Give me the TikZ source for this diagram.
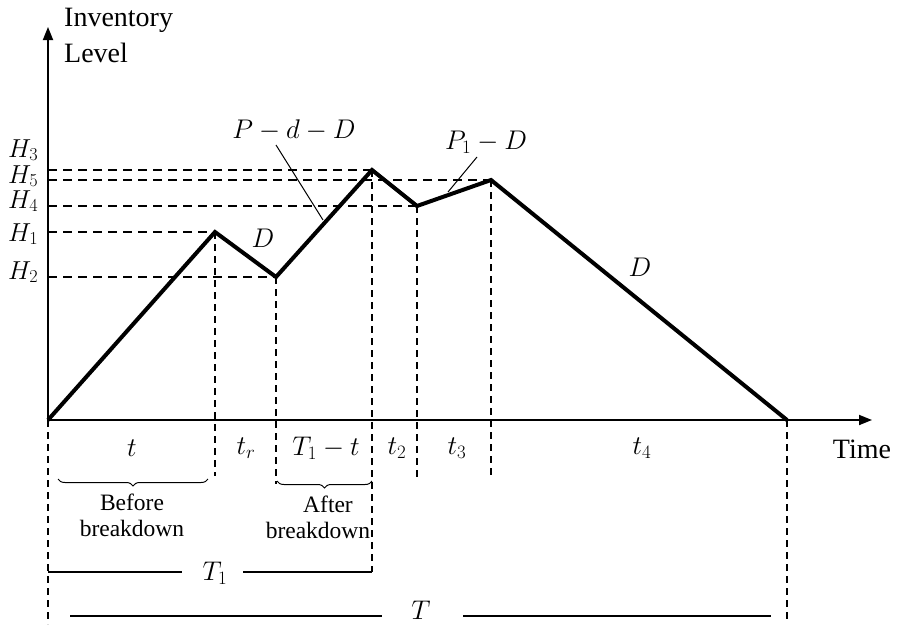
\RequirePackage{fix-cm}
\documentclass[tikz,border=0pt]{standalone}
\usepackage{fontspec}
\setmainfont{Liberation Serif}
\usetikzlibrary{arrows.meta,decorations.pathreplacing}
\begin{document}
\begin{tikzpicture}[x=1pt,y=-1pt,
 axis/.style={line width=1.8pt,-{Triangle[length=13pt,width=10pt]}},
 prof/.style={line width=4pt,line join=miter},
 guide/.style={line width=1.6pt,dash pattern=on 9pt off 6pt},
 vguide/.style={line width=1.6pt,dash pattern=on 7pt off 5pt},
 lead/.style={line width=1pt},
 span/.style={line width=1.4pt},
 brc/.style={line width=1pt,decorate,decoration={brace,mirror,amplitude=7pt}},
 lbl/.style={inner sep=0pt,font=\fontsize{27}{30}\selectfont},
 hl/.style={inner sep=0pt,anchor=base west,font=\fontsize{26}{30}\selectfont},
 txt/.style={inner sep=0pt,font=\fontsize{28}{33}\selectfont},
 small/.style={inner sep=0pt,align=center,font=\fontsize{23.5}{26}\selectfont}]
\useasboundingbox (0,0) rectangle (897,624);

% key points
\coordinate (O) at (48,420);
\coordinate (A) at (215,232);
\coordinate (B) at (276,277);
\coordinate (C) at (372,170);
\coordinate (E) at (417,206);
\coordinate (F) at (491,180);
\coordinate (G) at (787,420);
\coordinate (ytop) at (48,27);
\coordinate (xend) at (872,420);

% horizontal guides
\draw[guide] (48,232) -- (A);
\draw[guide] (48,277) -- (B);
\draw[guide] (48,170) -- (C);
\draw[guide] (48,180) -- (F);
\draw[guide] (48,206) -- (E);

% vertical guides
\coordinate (Ab) at (215,476);
\coordinate (Bb) at (276,484);
\coordinate (Cb) at (372,572);
\coordinate (Eb) at (417,477);
\coordinate (Fb) at (491,476);
\coordinate (Gb) at (787,622);
\coordinate (Ob) at (48,624);
\draw[vguide] (A) -- (Ab);
\draw[vguide] (B) -- (Bb);
\draw[vguide] (C) -- (Cb);
\draw[vguide] (E) -- (Eb);
\draw[vguide] (F) -- (Fb);
\draw[vguide] (G) -- (Gb);
\draw[vguide] (O) -- (Ob);

% axes
\draw[axis] (O) -- (ytop);
\draw[axis] (O) -- (xend);

% profile
\draw[prof] (O) -- (A) -- (B) -- (C) -- (E) -- (F) -- (G);

% axis labels
\node[txt,anchor=west] (inv) at (64,20) {Inventory};
\node[txt,anchor=west] (lev) at (64,53) {Level};
\node[txt] (time) at (862,449) {Time};

% H labels
\node[hl] (H3) at (8,157) {$H_3$};
\node[hl] (H5) at (8,183) {$H_5$};
\node[hl] (H4) at (8,208) {$H_4$};
\node[hl] (H1) at (8,241) {$H_1$};
\node[hl] (H2) at (8,279) {$H_2$};

% slope labels
\node[lbl] (D1) at (263,238) {$D$};
\node[lbl] (D2) at (640,267) {$D$};
\node[lbl] (PdD) at (294,130) {$P-d-D$};
\node[lbl] (P1D) at (486,142) {$P_1-D$};
\coordinate (l1a) at (276,145);
\coordinate (l1b) at (323,220);
\coordinate (l2a) at (477,157);
\coordinate (l2b) at (448,192);
\draw[lead] (l1a) -- (l1b);
\draw[lead] (l2a) -- (l2b);

% time interval labels
\node[lbl] (tt) at (132,448) {$t$};
\node[lbl] (tr) at (246,448) {$t_r$};
\node[lbl] (T1t) at (326,448) {$T_1-t$};
\node[lbl] (t2) at (397,448) {$t_2$};
\node[lbl] (t3) at (457,448) {$t_3$};
\node[lbl] (t4) at (642,448) {$t_4$};

% braces
\coordinate (b1a) at (58,479);
\coordinate (b1b) at (208,479);
\coordinate (b2a) at (277,481);
\coordinate (b2b) at (372,481);
\draw[brc] (b1a) -- (b1b);
\draw[brc] (b2a) -- (b2b);
\node[small] (bef) at (132,515) {Before\\breakdown};
\node[small] (aft) at (318,517) {\hspace*{20pt}After\\breakdown};

% T1 span
\node[lbl] (T1) at (215,573) {$T_1$};
\coordinate (s1a) at (48,572);
\coordinate (s1b) at (182,572);
\coordinate (s1c) at (243,572);
\draw[span] (s1a) -- (s1b);
\draw[span] (s1c) -- (Cb);

% T span
\node[lbl] (TT) at (421,610) {$T$};
\coordinate (s2a) at (70,616);
\coordinate (s2b) at (382,616);
\coordinate (s2c) at (463,616);
\coordinate (s2d) at (771,616);
\draw[span] (s2a) -- (s2b);
\draw[span] (s2c) -- (s2d);
\end{tikzpicture}
\end{document}
